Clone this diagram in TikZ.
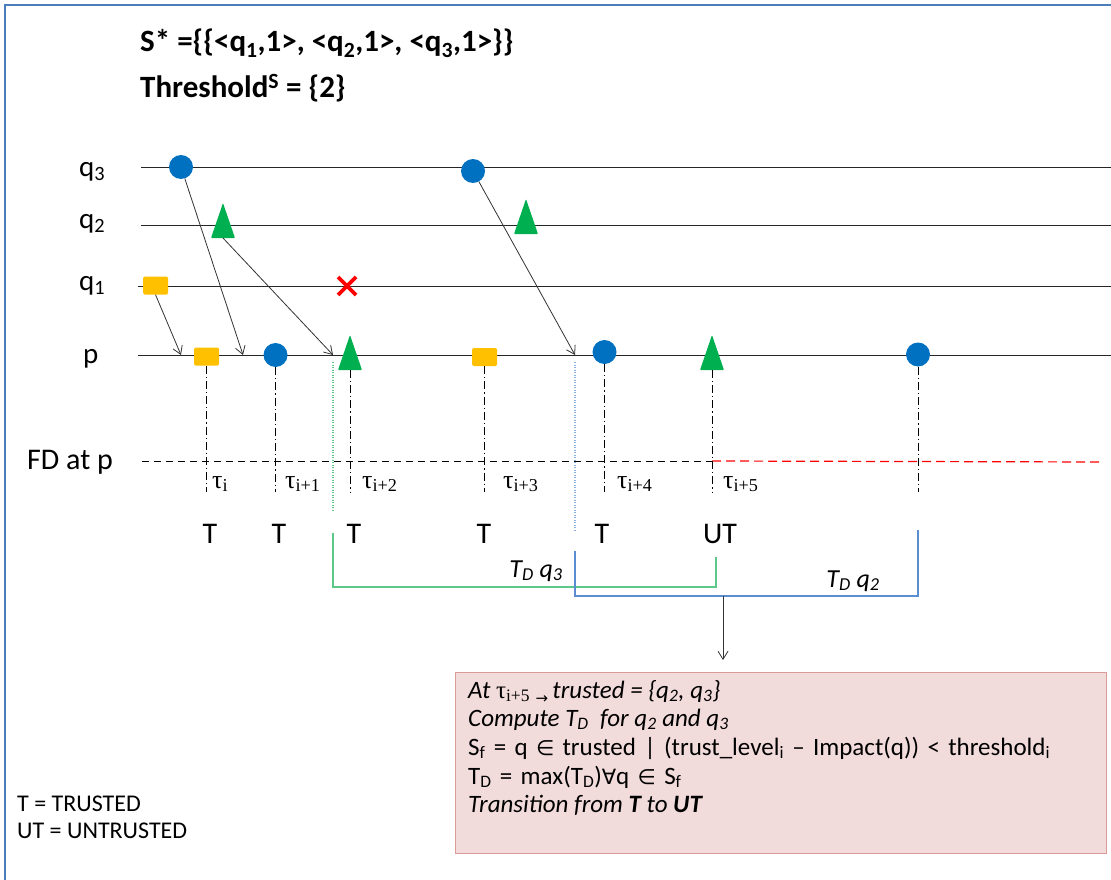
\documentclass[tikz,border=0pt]{standalone}
\usepackage{fontspec}
\setmainfont{Carlito}
\newfontfamily\tnr{Liberation Serif}
\newfontfamily\djv{DejaVu Sans}
\usetikzlibrary{arrows.meta,shapes.geometric}
\definecolor{ublue}{HTML}{0070C0}
\definecolor{ugreen}{HTML}{00B050}
\definecolor{uyellow}{HTML}{FFC000}
\definecolor{ured}{HTML}{FF0000}
\definecolor{framec}{HTML}{4A7EBB}
\definecolor{lgreen}{HTML}{5CC98A}
\definecolor{lblue}{HTML}{5A8ED0}
\definecolor{boxfill}{HTML}{F2DCDB}
\definecolor{boxdraw}{HTML}{DA9A98}
\begin{document}
\begin{tikzpicture}[x=1pt,y=-1pt,
  circ/.style={circle,fill=ublue,minimum size=24pt,inner sep=0pt},
  sqr/.style={rectangle,fill=uyellow,minimum width=25pt,minimum height=18pt,inner sep=0pt,rounded corners=1.5pt},
  trif/.style={fill=ugreen,rounded corners=0.8pt},
  msg/.style={draw=black!80,line width=0.8pt,-{Straight Barb[length=8pt,width=10pt]}},
  tl/.style={line width=1pt,black!85},
  dd/.style={line width=0.9pt,dash pattern=on 8pt off 3pt on 1.2pt off 3pt},
  lab/.style={font=\fontsize{29}{34}\selectfont,anchor=base west,inner sep=0pt},
  tau/.style={font=\tnr\fontsize{26}{30}\selectfont,anchor=base west,inner sep=0pt},
  tt/.style={font=\fontsize{30}{34}\selectfont,anchor=base,inner sep=0pt},
  hdr/.style={font=\bfseries\fontsize{31}{36}\selectfont,anchor=base west,inner sep=0pt},
  btxt/.style={font=\fontsize{25}{29}\selectfont,anchor=base west,inner sep=0pt},
  lgd/.style={font=\fontsize{24}{28}\selectfont,anchor=base west,inner sep=0pt},
  tdl/.style={font=\itshape\fontsize{26}{30}\selectfont,inner sep=0pt}
]
\useasboundingbox (0,0) rectangle (1111,880);
% frame
\draw[framec,line width=1.6pt] (5,880) -- (5,5) -- (1111,5);

% header
\node[hdr] (h1) at (140,52) {S* =\{\{<q\textsubscript{1},1>, <q\textsubscript{2},1>, <q\textsubscript{3},1>\}\}};
\node[hdr] (h2) at (140,98) {Threshold\textsuperscript{S} = \{2\}};

% process lines
\node[lab] (lq3) at (79,176) {q\textsubscript{3}};
\node[lab] (lq2) at (79,228) {q\textsubscript{2}};
\node[lab] (lq1) at (79,290) {q\textsubscript{1}};
\node[lab] (lp) at (83,363) {p};
\node[lab,font=\fontsize{30}{34}\selectfont] (lfd) at (27,469) {FD at p};
\coordinate (q3s) at (141,167); \coordinate (q3e) at (1111,167);
\coordinate (q2s) at (141,225); \coordinate (q2e) at (1111,225);
\coordinate (q1s) at (138,286); \coordinate (q1e) at (1111,286);
\coordinate (ps) at (138,355); \coordinate (pe) at (1111,355);
\draw[tl] (q3s) -- (q3e);
\draw[tl] (q2s) -- (q2e);
\draw[tl] (q1s) -- (q1e);
\draw[tl] (ps) -- (pe);

% FD line
\coordinate (fds) at (142,461); \coordinate (fdm) at (712,461); \coordinate (fde) at (1101,462);
\draw[line width=1pt,dash pattern=on 7pt off 5pt] (fds) -- (fdm);
\draw[ured,line width=1.2pt,dash pattern=on 9pt off 5pt] (fdm) -- (fde);

% events on q lines
\node[sqr] (e1) at (155.5,285.5) {};
\node[circ] (e2) at (181,167) {};
\coordinate (e3) at (223,238);
\fill[trif] (e3) ++(-12,0) -- ++(24,0) -- ++(-12,-35) -- cycle;
\node[circ] (e4) at (473,171) {};
\coordinate (e5) at (526,234);
\fill[trif] (e5) ++(-12,0) -- ++(24,0) -- ++(-12,-35) -- cycle;
\coordinate (x1) at (347,286);
\draw[ured,line width=3.6pt] (x1) ++(-9,-9) -- ++(18,18);
\draw[ured,line width=3.6pt] (x1) ++(9,-9) -- ++(-18,18);

% events on p
\node[sqr] (p1) at (206.5,356.5) {};
\node[circ] (p2) at (275.5,355) {};
\coordinate (p3) at (350,370);
\fill[trif] (p3) ++(-12,0) -- ++(24,0) -- ++(-12,-35) -- cycle;
\node[sqr] (p4) at (484.5,357) {};
\node[circ] (p5) at (604.5,352) {};
\coordinate (p6) at (712,370);
\fill[trif] (p6) ++(-12,0) -- ++(24,0) -- ++(-12,-35) -- cycle;
\node[circ] (p7) at (918,354.5) {};

% messages
\coordinate (a1) at (181,355);
\coordinate (a2) at (243,355);
\coordinate (a3) at (333,355);
\coordinate (a4) at (575,355);
\draw[msg] (e1.south) -- (a1);
\draw[msg] (e2) -- (a2);
\draw[msg] (e3) -- (a3);
\draw[msg] (e4) -- (a4);

% dash-dot verticals
\coordinate (bot) at (0,492);
\draw[dd] (p1.south) -- (p1.south |- bot);
\draw[dd] (p2.south) -- (p2.south |- bot);
\draw[dd] (p3) -- (p3 |- bot);
\draw[dd] (p4.south) -- (p4.south |- bot);
\draw[dd] (p5.south) -- (p5.south |- bot);
\draw[dd] (p6) -- (p6 |- bot);
\draw[dd] (p7.south) -- (p7.south |- bot);

% tau labels
\node[tau] (t0) at (212,488) {τ\textsubscript{i}};
\node[tau] (t1) at (285,488) {τ\textsubscript{i+1}};
\node[tau] (t2) at (362,488) {τ\textsubscript{i+2}};
\node[tau] (t3) at (503,488) {τ\textsubscript{i+3}};
\node[tau] (t4) at (617,488) {τ\textsubscript{i+4}};
\node[tau] (t5) at (723,488) {τ\textsubscript{i+5}};

% T / UT labels
\node[tt] (s0) at (210,543) {T};
\node[tt] (s1) at (279,543) {T};
\node[tt] (s2) at (354,543) {T};
\node[tt] (s3) at (484,543) {T};
\node[tt] (s4) at (602,543) {T};
\node[tt] (s5) at (720,543) {UT};

% green T_D q3 bracket
\coordinate (g0) at (333,362); \coordinate (g1) at (333,510);
\coordinate (g2) at (333,533); \coordinate (g3) at (333,587);
\coordinate (g4) at (716,587); \coordinate (g5) at (716,557);
\draw[lgreen,line width=1.2pt,dash pattern=on 1pt off 1.5pt] (g0) -- (g1);
\draw[lgreen,line width=1.1pt] (g2) -- (g3) -- (g4) -- (g5);
\node[tdl] (tdq3) at (536,571) {T\textsubscript{D} q\textsubscript{3}};

% blue T_D q2 bracket
\coordinate (b0) at (575,362); \coordinate (b1) at (575,532);
\coordinate (b2) at (575,551); \coordinate (b3) at (575,596);
\coordinate (b4) at (918,596); \coordinate (b5) at (918,530);
\draw[lblue!70,line width=1.1pt,dash pattern=on 1pt off 1.5pt] (b0) -- (b1);
\draw[lblue,line width=1.1pt] (b2) -- (b3) -- (b4) -- (b5);
\node[tdl] (tdq2) at (853,581) {T\textsubscript{D} q\textsubscript{2}};

% result box
\node[draw=boxdraw,fill=boxfill,line width=1.3pt,minimum width=651pt,minimum height=181pt,anchor=north west,inner sep=0pt] (box) at (455,672) {};
\coordinate (ar0) at (723,596);
\coordinate (ar1) at (723,660);
\draw[msg] (ar0) -- (ar1);
\node[btxt] (l1) at (468,698) {\textit{At} {\tnr τ\textsubscript{i+5}}\ \raisebox{-0.2em}{\djv\fontsize{15}{15}\selectfont →}\,\textit{trusted = \{q\textsubscript{2}, q\textsubscript{3}\}}};
\node[btxt] (l2) at (468,726) {\textit{Compute T\textsubscript{D}\ \ for q\textsubscript{2} and q\textsubscript{3}}};
\node[btxt] (l3) at (468,755) {\spaceskip=8.3pt S\textsubscript{f} = q {\djv\fontsize{21}{21}\selectfont ∈} trusted | (trust\_level\textsubscript{i} -- Impact(q)) < threshold\textsubscript{i}};
\node[btxt] (l4) at (468,784) {\spaceskip=8.3pt T\textsubscript{D} = max(T\textsubscript{D}){\djv\fontsize{21}{21}\selectfont ∀}q {\djv\fontsize{21}{21}\selectfont ∈} S\textsubscript{f}};
\node[btxt] (l5) at (468,812) {\textit{Transition from \textbf{T} to \textbf{UT}}};

% legend
\node[lgd] (lg1) at (17,811) {T = TRUSTED};
\node[lgd] (lg2) at (17,838) {UT = UNTRUSTED};
\end{tikzpicture}
\end{document}
